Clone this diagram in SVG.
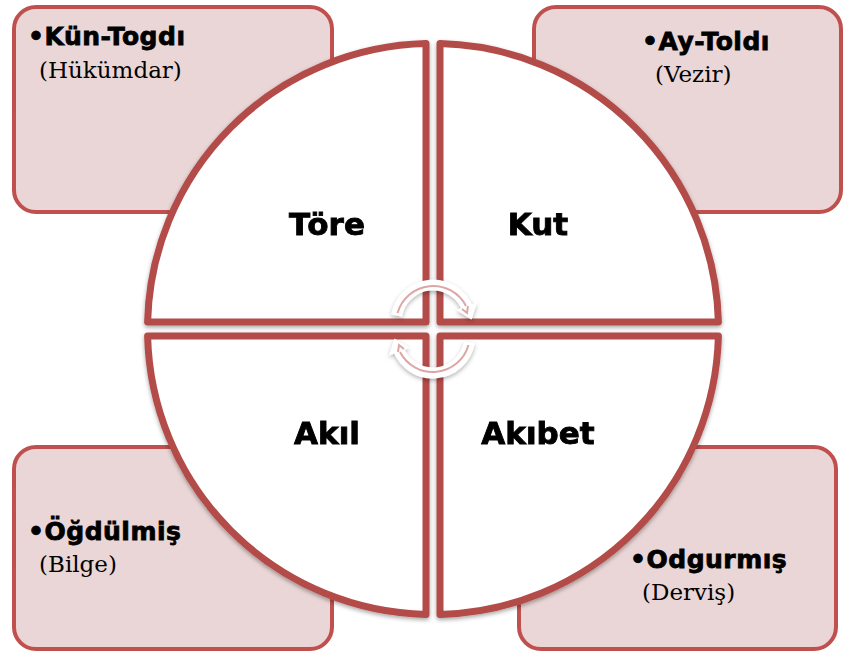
<svg xmlns="http://www.w3.org/2000/svg" width="845" height="651" viewBox="0 0 845 651">
<defs>
<filter id="sh" x="-10%" y="-10%" width="120%" height="120%">
<feDropShadow dx="0" dy="2" stdDeviation="2" flood-color="#000" flood-opacity="0.35"/>
</filter>
<filter id="sh2" x="-30%" y="-30%" width="160%" height="160%">
<feDropShadow dx="0" dy="2" stdDeviation="2" flood-color="#000" flood-opacity="0.3"/>
</filter>
</defs>
<style>
.box{fill:#EAD6D6;stroke:#C0504D;stroke-width:4}
.quad{fill:#FFFFFF;stroke:#B34B49;stroke-width:7;stroke-linejoin:round}
.name{font-family:"DejaVu Sans","Liberation Sans",sans-serif;font-weight:bold;font-size:25px;letter-spacing:0.5px;fill:#000;stroke:#000;stroke-width:0.8}
.role{font-family:"DejaVu Serif","Liberation Serif",serif;font-size:23px;fill:#000}
.ql{font-family:"DejaVu Sans","Liberation Sans",sans-serif;font-weight:bold;font-size:31px;fill:#000;stroke:#000;stroke-width:0.9;text-anchor:middle}
.arc{fill:none;stroke:#FFFFFF;stroke-width:11}
.arcl{fill:none;stroke:#DDA6A5;stroke-width:2}
</style>
<g id="box-kun">
<rect class="box" x="14" y="7" width="318" height="205" rx="22"/>
<text class="name" x="28" y="45">•Kün-Togdı</text>
<text class="role" x="39" y="78">(Hükümdar)</text>
</g>
<g id="box-ay">
<rect class="box" x="534" y="7" width="307" height="205" rx="22"/>
<text class="name" x="642" y="50">•Ay-Toldı</text>
<text class="role" x="655" y="82">(Vezir)</text>
</g>
<g id="box-ogdulmis">
<rect class="box" x="14" y="447" width="318" height="202" rx="22"/>
<text class="name" x="28" y="540">•Öğdülmiş</text>
<text class="role" x="39" y="572">(Bilge)</text>
</g>
<g id="box-odgurmis">
<rect class="box" x="519" y="447" width="317" height="202" rx="22"/>
<text class="name" x="630" y="568">•Odgurmış</text>
<text class="role" x="642" y="600">(Derviş)</text>
</g>
<g id="q-tore" filter="url(#sh)">
<path class="quad" d="M426 322 L426 43.6 A285.5 285.5 0 0 0 147.6 322 Z"/>
<text class="ql" x="327" y="235">Töre</text>
</g>
<g id="q-kut" filter="url(#sh)">
<path class="quad" d="M440 322 L440 43.6 A285.5 285.5 0 0 1 718.4 322 Z"/>
<text class="ql" x="538" y="235">Kut</text>
</g>
<g id="q-akil" filter="url(#sh)">
<path class="quad" d="M426 336 L426 614.4 A285.5 285.5 0 0 1 147.6 336 Z"/>
<text class="ql" x="327" y="444">Akıl</text>
</g>
<g id="q-akibet" filter="url(#sh)">
<path class="quad" d="M440 336 L440 614.4 A285.5 285.5 0 0 0 718.4 336 Z"/>
<text class="ql" x="538" y="444">Akıbet</text>
</g>
<g id="connectors">
<g filter="url(#sh2)">
<path class="arc" d="M396.6 315.6 A37 37 0 0 1 467.8 309.3"/>
<polygon fill="#FFFFFF" points="471.5,319.5 477,302.5 456.5,310"/>
<path class="arc" d="M469.4 342.4 A37 37 0 0 1 398.2 348.7"/>
<polygon fill="#FFFFFF" points="394.5,338.5 389,355.5 409.5,348"/>
</g>
<path class="arcl" d="M397.5 313 A37 37 0 0 1 466 306"/>
<polyline class="arcl" points="462,309 467,313 468,306"/>
<path class="arcl" d="M468.5 345 A37 37 0 0 1 400 352"/>
<polyline class="arcl" points="404,349 399,345 398,352"/>
</g>
</svg>
